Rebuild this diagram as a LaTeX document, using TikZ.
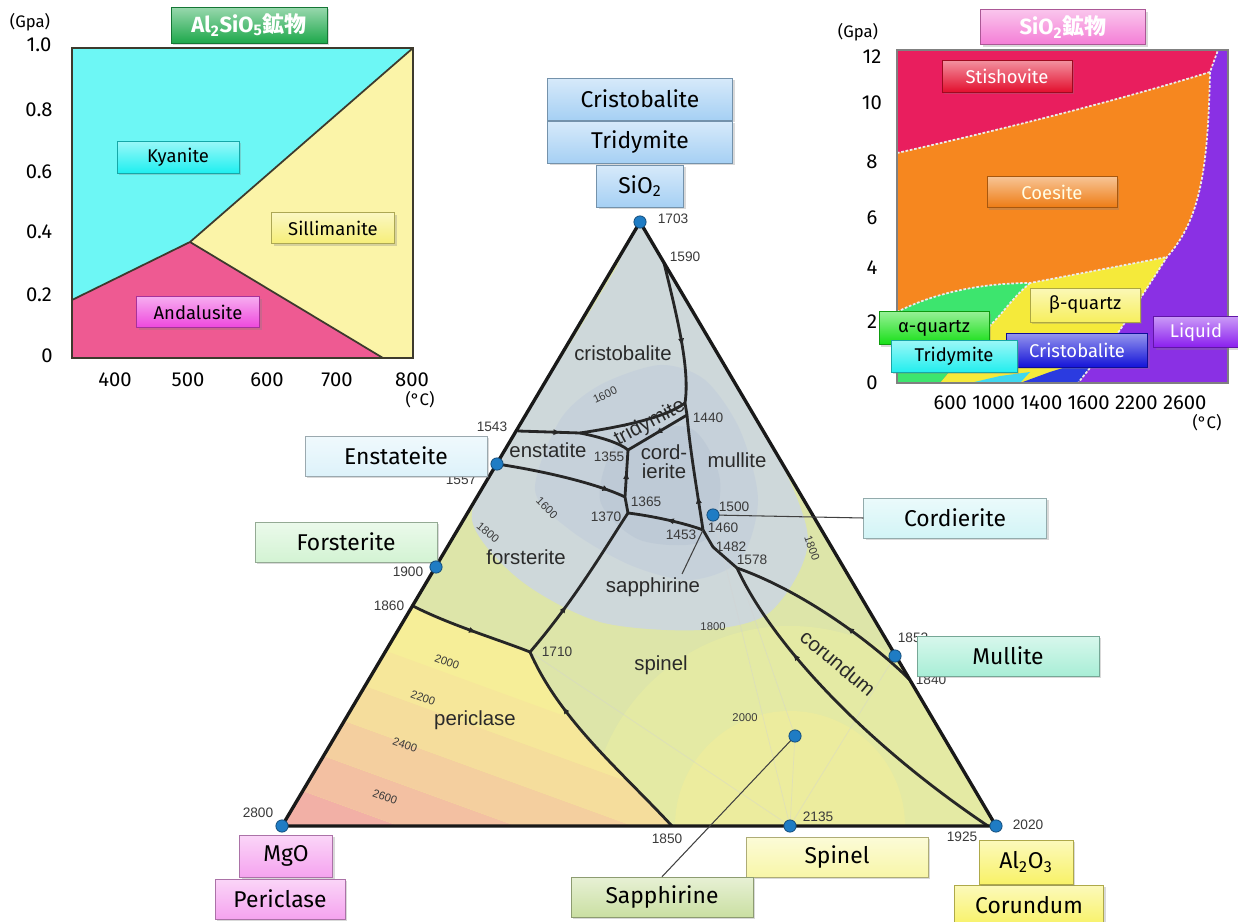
\documentclass[tikz,border=0pt]{standalone}
\usepackage{fontspec}
\setmainfont{Fira Sans}
\newfontfamily\trifont{Liberation Sans}
\newfontfamily\jpfont{Noto Sans CJK JP}
\usetikzlibrary{shadows,decorations.markings,arrows.meta}

% colours of the two small charts
\definecolor{kyareg}{HTML}{6DF7F5}
\definecolor{silreg}{HTML}{FBF4A8}
\definecolor{andreg}{HTML}{EE5A92}
\definecolor{kyabox}{HTML}{1FEFF0}
\definecolor{silbox}{HTML}{F6EE78}
\definecolor{andbox}{HTML}{EE48DD}
\definecolor{titgreen}{HTML}{1DA84B}
\definecolor{titpink}{HTML}{F47ED6}
\definecolor{stireg}{HTML}{E91E5E}
\definecolor{coereg}{HTML}{F6871F}
\definecolor{liqreg}{HTML}{8A30E4}
\definecolor{bqreg}{HTML}{F5EA3A}
\definecolor{aqreg}{HTML}{3DE56E}
\definecolor{crireg}{HTML}{2B3BE0}
\definecolor{trireg}{HTML}{3FD8F0}
\definecolor{stibox}{HTML}{E30F2E}
\definecolor{coebox}{HTML}{EE7C14}
\definecolor{bqbox}{HTML}{F7EF5E}
\definecolor{aqbox}{HTML}{16DF16}
\definecolor{tribox}{HTML}{23EEEE}
\definecolor{cribox}{HTML}{1414D8}
\definecolor{liqbox}{HTML}{8A1EEE}
% colours of the triangle
\definecolor{sibox}{HTML}{A6D0F4}
\definecolor{ensbox}{HTML}{DDF2FA}
\definecolor{forbox}{HTML}{D3F3D3}
\definecolor{corbox}{HTML}{D2F4F6}
\definecolor{mulbox}{HTML}{A8EED6}
\definecolor{spibox}{HTML}{F8F6A8}
\definecolor{sapbox}{HTML}{CADFA2}
\definecolor{mgbox}{HTML}{F5A3EF}
\definecolor{albox}{HTML}{F8F268}
\definecolor{trigreen}{HTML}{DDE5A9}
\definecolor{spinlight}{HTML}{E4EAA4}
\definecolor{spinyel}{HTML}{ECEC9E}
\definecolor{isoA}{HTML}{CDD7E0}
\definecolor{isoB}{HTML}{C2CDDA}
\definecolor{isoC}{HTML}{B6C3D2}
\definecolor{perpink}{HTML}{F2B0A6}
\definecolor{peryel}{HTML}{F6EE98}
\definecolor{dotblue}{HTML}{1F7CC4}
\definecolor{numgrey}{HTML}{3A3A3A}
\definecolor{fieldgrey}{HTML}{2A2A2A}

\tikzset{
  mineral/.style={rectangle, draw=#1!70!black, line width=0.3pt,
    top color=#1!45!white, bottom color=#1, inner sep=1pt,
    drop shadow={opacity=0.3, shadow xshift=1.2pt, shadow yshift=-1.2pt},
    font=\fontsize{13}{15}\selectfont},
  smallmineral/.style={mineral=#1, font=\fontsize{10.5}{12}\selectfont},
  ptdot/.style={circle, fill=dotblue, draw=dotblue!60!black, line width=0.4pt,
    inner sep=0pt, minimum size=7pt},
  tnum/.style={font=\trifont\fontsize{7.8}{9}\selectfont, text=numgrey, inner sep=0pt},
  isolbl/.style={font=\trifont\fontsize{6.4}{7}\selectfont, text=numgrey, inner sep=0pt},
  fieldlbl/.style={font=\trifont\fontsize{11.6}{13}\selectfont, text=fieldgrey, inner sep=0pt},
  axlabel/.style={font=\fontsize{11.5}{13}\selectfont, inner sep=0pt},
  unitlbl/.style={font=\fontsize{9.5}{11}\selectfont, inner sep=0pt},
  cotectic/.style={line width=1.6pt, black!85},
  midarrow/.style={postaction={decorate}, decoration={markings,
    mark=at position #1 with {\arrow{Latex[length=4.5pt,width=3.5pt]}}}},
  midarrow/.default=0.5,
  phaseedge/.style={line width=1pt, black!75!olive},
  phaseline/.style={line width=1pt, white!85!gray, dash pattern=on 1.5pt off 1pt},
  leader/.style={line width=0.6pt, black!75},
  tieline/.style={line width=0.4pt, white!65!gray, opacity=0.45}
}

\begin{document}
\begin{tikzpicture}[x=0.02cm, y=-0.02cm]
\useasboundingbox (0,0) rectangle (1238,922);

% ---------- Al2SiO5 chart
\fill[kyareg] (72,48) rectangle (413,358);
\fill[silreg] (190,242) -- (413,48) -- (413,358) -- (383,358) -- cycle;
\fill[andreg] (72,300) -- (190,242) -- (383,358) -- (72,358) -- cycle;
\draw[phaseedge] (72,300) -- (190,242) -- (413,48);
\draw[phaseedge] (190,242) -- (383,358);
\draw[phaseedge] (72,48) rectangle (413,358);
\foreach \v/\y in {1.0/45,0.8/110,0.6/172,0.4/232,0.2/295}
  \node[axlabel] (ly\y) at (39,\y) {\v};
\node[axlabel] (ly0) at (47,356) {0};
\foreach \v/\x in {400/115,500/188,600/267,700/337,800/412}
  \node[axlabel] (lx\v) at (\x,380) {\v};
\node[unitlbl] (lgpa) at (30,22) {(Gpa)};
\node[unitlbl] (ldeg) at (420,400) {(°C)};
\node[mineral=titgreen, text=white, minimum width=3.12cm, minimum height=0.72cm,
  font=\bfseries\fontsize{12.5}{14}\selectfont] (ltitle) at (249,25)
  {Al\textsubscript{2}SiO\textsubscript{5}{\jpfont 鉱物}};
\node[smallmineral=kyabox, minimum width=2.44cm, minimum height=0.64cm] (kyan) at (178,157) {Kyanite};
\node[smallmineral=silbox, minimum width=2.46cm, minimum height=0.62cm] (sill) at (333,228) {Sillimanite};
\node[smallmineral=andbox, minimum width=2.46cm, minimum height=0.62cm] (anda) at (198,312) {Andalusite};

% ---------- SiO2 chart
\fill[stireg] (897,50) rectangle (1228,383);
\fill[coereg] (897,153) .. controls (1000,130) and (1120,100) .. (1210,72)
  .. controls (1208,170) and (1200,220) .. (1167,257) -- (1030,283)
  .. controls (990,283) and (940,290) .. (897,312) -- cycle;
\fill[liqreg] (1218,50) -- (1228,50) -- (1228,383) -- (1078,383) -- (1120,330) -- (1167,257)
  .. controls (1200,220) and (1208,170) .. (1210,72) -- cycle;
\fill[aqreg] (897,312) .. controls (940,290) and (990,283) .. (1030,283)
  .. controls (1010,300) and (1000,318) .. (985,330) -- (940,383) -- (897,383) -- cycle;
\fill[bqreg] (1030,283) -- (1167,257) -- (1120,330) -- (1078,383) -- (940,383) -- (985,330)
  .. controls (1000,318) and (1010,300) .. (1030,283);
\fill[crireg] (1020,383) -- (1050,372) -- (1098,357) -- (1078,383) -- cycle;
\fill[trireg] (970,383) -- (1000,376) -- (1030,372) -- (1020,383) -- cycle;
\draw[phaseline] (897,153) .. controls (1000,130) and (1120,100) .. (1210,72) -- (1218,50);
\draw[phaseline] (1210,72) .. controls (1208,170) and (1200,220) .. (1167,257)
  -- (1120,330) -- (1078,383);
\draw[phaseline] (897,312) .. controls (940,290) and (990,283) .. (1030,283) -- (1167,257);
\draw[phaseline] (1030,283) .. controls (1010,300) and (1000,318) .. (985,330);
\draw[gray, line width=1.2pt] (897,50) rectangle (1228,383);
\foreach \v/\y in {12/57,10/103,8/162,6/218,4/268,2/322,0/383}
  \node[axlabel] (ry\v) at (872,\y) {\v};
\node[axlabel] (rx) at (1070,403) {600 1000 1400 1600 2200 2600};
\node[unitlbl] (rgpa) at (858,32) {(Gpa)};
\node[unitlbl] (rdeg) at (1207,423) {(°C)};
\node[mineral=titpink, text=white, minimum width=3.3cm, minimum height=0.7cm,
  font=\bfseries\fontsize{12.5}{14}\selectfont] (rtitle) at (1063,27)
  {SiO\textsubscript{2}{\jpfont 鉱物}};
\node[smallmineral=stibox, text=white, minimum width=2.6cm, minimum height=0.64cm] (stis) at (1007,76) {Stishovite};
\node[smallmineral=coebox, text=white!90!yellow, minimum width=2.6cm, minimum height=0.62cm] (coes) at (1052,192) {Coesite};
\node[smallmineral=bqbox, minimum width=2.2cm, minimum height=0.68cm] (bqtz) at (1085,305) {β-quartz};
\node[smallmineral=liqbox, text=white, minimum width=1.7cm, minimum height=0.62cm] (liqd) at (1196,332) {Liquid};
\node[smallmineral=aqbox, minimum width=2.2cm, minimum height=0.66cm] (aqtz) at (934,328) {α-quartz};
\node[smallmineral=cribox, text=white, minimum width=2.82cm, minimum height=0.68cm] (crs2) at (1077,350) {Cristobalite};
\node[smallmineral=tribox, minimum width=2.52cm, minimum height=0.64cm] (trd2) at (954,356) {Tridymite};

% ---------- MgO - Al2O3 - SiO2 triangle
\coordinate (sio2) at (640,222);
\coordinate (mgo) at (282,826);
\coordinate (al2o3) at (996,826);
\coordinate (p1590) at (664,263);
\coordinate (pcrtr) at (685,403);
\coordinate (p1440) at (687,415);
\coordinate (p1543) at (518,431);
\coordinate (pjct) at (580,433);
\coordinate (p1355) at (628,450);
\coordinate (p1557) at (497,464);
\coordinate (p1365) at (625,497);
\coordinate (p1370) at (628,513);
\coordinate (p1453) at (703,530);
\coordinate (p1482) at (713,547);
\coordinate (p1578) at (737,568);
\coordinate (p1840) at (910,680);
\coordinate (p1860) at (413,606);
\coordinate (p1710) at (530,652);
\coordinate (p1850) at (672,826);
\coordinate (p1925) at (988,826);
\coordinate (cfors) at (436,567);
\coordinate (ccord) at (713,515);
\coordinate (cmull) at (895,656);
\coordinate (csapph) at (795,736);
\coordinate (cspin) at (790,826);
\coordinate (sfield) at (682,574);

\fill[trigreen] (sio2) -- (mgo) -- (al2o3) -- cycle;
\begin{scope}
  \clip (sio2) -- (mgo) -- (al2o3) -- cycle;
  \fill[spinlight] (cspin) circle[radius=200];
  \fill[spinyel] (cspin) circle[radius=115];
  \fill[isoA, opacity=0.9] plot[smooth cycle] coordinates {(640,226) (700,320) (770,440)
    (808,540) (770,612) (700,630) (600,622) (520,580) (472,520) (500,450) (560,360) (615,270)};
  \fill[isoB, opacity=0.6] plot[smooth cycle] coordinates {(600,385) (660,365) (705,380)
    (740,430) (758,500) (740,560) (690,580) (630,565) (570,530) (535,490) (560,420)};
  \fill[isoC, opacity=0.45] plot[smooth cycle] coordinates {(620,440) (690,428) (720,480)
    (705,540) (640,540) (600,500)};
  \draw[tieline] (cspin) -- (csapph) -- (p1578);
  \draw[tieline] (cspin) -- (ccord);
  \draw[tieline] (cspin) -- (cmull);
  \draw[tieline] (cspin) -- (p1710);
\end{scope}
\begin{scope}
  \clip (mgo) -- (p1860) .. controls (450,625) and (500,640) .. (p1710)
    .. controls (560,720) and (620,770) .. (p1850) -- cycle;
  \fill[peryel] (250,550) rectangle (700,830);
  \foreach \i/\p in {0/0,1/25,2/50,3/72,4/88}
    \fill[peryel!\p!perpink, rotate around={-20:(mgo)}] (0,826-40*\i) rectangle (1000,786-40*\i);
\end{scope}

% boundary curves
\draw[cotectic, midarrow=0.6] (p1590) .. controls (678,320) and (690,370) .. (pcrtr);
\draw[cotectic] (pcrtr) -- (p1440);
\draw[cotectic, midarrow=0.7] (p1543) -- (pjct);
\draw[cotectic] (pjct) .. controls (620,427) and (665,418) .. (pcrtr);
\draw[cotectic] (pjct) .. controls (600,437) and (620,443) .. (p1355);
\draw[cotectic, midarrow=0.55] (p1440) -- (p1355);
\draw[cotectic, midarrow=0.55] (p1365) -- (p1355);
\draw[cotectic] (p1365) -- (p1370);
\draw[cotectic, midarrow=0.88] (p1557) .. controls (550,472) and (600,485) .. (p1365);
\draw[cotectic, midarrow=0.5] (p1453) .. controls (690,525) and (660,517) .. (p1370);
\draw[cotectic, midarrow=0.3] (p1453) .. controls (697,490) and (690,450) .. (p1440);
\draw[cotectic] (p1453) -- (p1482) -- (p1578);
\draw[cotectic, midarrow=0.4] (p1840) .. controls (870,640) and (800,590) .. (p1578);
\draw[cotectic, midarrow=0.72] (p1925) .. controls (860,740) and (770,640) .. (p1578);
\draw[cotectic, midarrow=0.55] (p1860) .. controls (450,625) and (500,640) .. (p1710);
\draw[cotectic, midarrow=0.72] (p1850) .. controls (620,770) and (560,720) .. (p1710);
\draw[cotectic, midarrow=0.35] (p1710) .. controls (575,600) and (610,540) .. (p1370);
\draw[line width=1.9pt, black!90] (sio2) -- (mgo) -- (al2o3) -- cycle;

% fields
\node[fieldlbl] (fcris) at (623,353) {cristobalite};
\node[fieldlbl, rotate=28] (ftrid) at (650,423) {tridymite};
\node[fieldlbl] (fenst) at (548,450) {enstatite};
\node[fieldlbl, align=center] (fcord) at (664,462) {cord-\\[-2pt]ierite};
\node[fieldlbl] (fmull) at (737,460) {mullite};
\node[fieldlbl] (ffors) at (526,557) {forsterite};
\node[fieldlbl] (fsapph) at (653,587) {sapphirine};
\node[fieldlbl] (fspin) at (661,665) {spinel};
\node[fieldlbl] (fperi) at (475,720) {periclase};
\node[fieldlbl, rotate=-40] (fcoru) at (838,663) {corundum};
\draw[leader] (sfield) -- (p1453);

% isotherms
\node[isolbl, rotate=25] (i1) at (605,395) {1600};
\node[isolbl, rotate=-45] (i2) at (547,508) {1600};
\node[isolbl, rotate=-40] (i3) at (488,533) {1800};
\node[isolbl, rotate=-70] (i4) at (812,548) {1800};
\node[isolbl] (i5) at (713,627) {1800};
\node[isolbl] (i6) at (745,718) {2000};
\node[isolbl, rotate=-20] (i7) at (447,662) {2000};
\node[isolbl, rotate=-20] (i8) at (423,698) {2200};
\node[isolbl, rotate=-20] (i9) at (405,745) {2400};
\node[isolbl, rotate=-20] (i10) at (385,797) {2600};

% temperatures
\foreach \t/\x/\y in {1703/673/219, 1590/685/257, 1543/492/427, 1557/461/480,
    1900/408/572, 1860/389/606, 1440/708/418, 1355/609/457, 1365/646/502,
    1370/606/517, 1500/734/507, 1460/723/528, 1453/681/535, 1482/731/547,
    1578/752/560, 1852/913/638, 1840/931/680, 1710/557/652, 1850/667/839,
    2135/818/817, 1925/962/837, 2020/1028/825, 2800/258/813}
  \node[tnum] (t\t) at (\x,\y) {\t};

% mineral labels
\node[mineral=sibox, minimum width=3.7cm, minimum height=0.84cm] (crist) at (640,99) {Cristobalite};
\node[mineral=sibox, minimum width=3.7cm, minimum height=0.84cm] (trid) at (640,142) {Tridymite};
\node[mineral=sibox, minimum width=1.74cm, minimum height=0.84cm] (sibx) at (640,186) {SiO\textsubscript{2}};
\node[mineral=ensbox, minimum width=3.64cm, minimum height=0.8cm] (enst) at (396,456) {Enstateite};
\node[mineral=forbox, minimum width=3.64cm, minimum height=0.8cm] (fors) at (346,542) {Forsterite};
\node[mineral=corbox, minimum width=3.66cm, minimum height=0.8cm] (cord) at (955,518) {Cordierite};
\node[mineral=mulbox, minimum width=3.64cm, minimum height=0.8cm] (mull) at (1008,656) {Mullite};
\node[mineral=spibox, minimum width=3.64cm, minimum height=0.8cm] (spin) at (837,857) {Spinel};
\node[mineral=sapbox, minimum width=3.64cm, minimum height=0.8cm] (sapph) at (662,897) {Sapphirine};
\node[mineral=mgbox, minimum width=1.86cm, minimum height=0.84cm] (mgbx) at (286,856) {MgO};
\node[mineral=mgbox, minimum width=2.6cm, minimum height=0.8cm] (peri) at (280,899) {Periclase};
\node[mineral=albox, minimum width=2.98cm, minimum height=0.8cm] (coru) at (1029,905) {Corundum};
\node[mineral=albox, minimum width=1.88cm, minimum height=0.88cm] (albx) at (1026,862) {Al\textsubscript{2}O\textsubscript{3}};

\draw[leader] (ccord) -- (cord.west);
\draw[leader] (csapph) -- (sapph.north);

% composition points
\foreach \c in {sio2, mgo, al2o3, p1557, cfors, ccord, cmull, csapph, cspin}
  \node[ptdot] (d\c) at (\c) {};
\end{tikzpicture}
\end{document}
